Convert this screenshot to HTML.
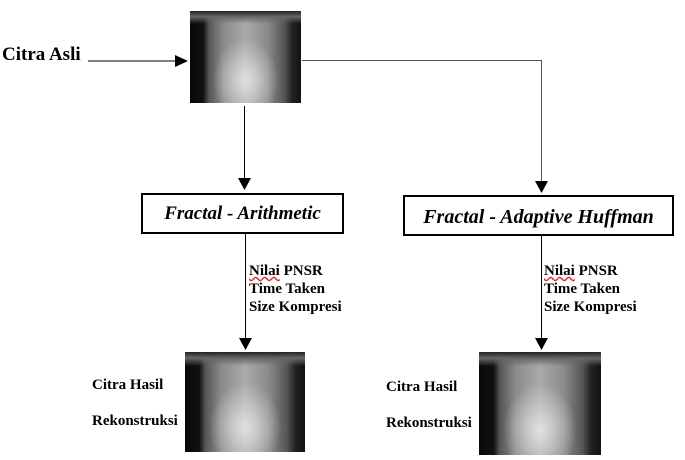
<!DOCTYPE html>
<html><head><style>
body{margin:0;width:685px;height:460px;background:#fff;position:relative;overflow:hidden;font-family:"Liberation Serif","Times New Roman","DejaVu Serif",serif;font-weight:bold;color:#000}
.x{position:absolute;background:
radial-gradient(ellipse 30% 45% at 50% 75%,rgba(230,230,230,.9),rgba(230,230,230,0)),
linear-gradient(to bottom,#222 0%,#666 6%,rgba(0,0,0,0) 14%),
linear-gradient(to right,#080808 0%,#111 12%,#555 17%,#8a8a8a 30%,#aaa 50%,#8a8a8a 70%,#555 85%,#222 92%,#111 100%);}
.t{position:absolute;white-space:nowrap}
.box{position:absolute;border:2px solid #000;box-sizing:border-box;font-style:italic;text-align:center}
</style></head><body>
<div class="x" style="left:190px;top:11px;width:111px;height:92px"></div>
<div class="x" style="left:185px;top:352px;width:120px;height:100px"></div>
<div class="x" style="left:479px;top:352px;width:122px;height:103px"></div>
<svg width="685" height="460" style="position:absolute;left:0;top:0">
<g stroke="#000" stroke-width="1" fill="none">
<line x1="88" y1="61" x2="176" y2="61"/>
<polyline points="302,60.5 541.5,60.5 541.5,182" stroke="#555"/>
<line x1="244.5" y1="106" x2="244.5" y2="178"/>
<line x1="245.5" y1="234" x2="245.5" y2="338"/>
<line x1="541.5" y1="236" x2="541.5" y2="338"/>
</g>
<g fill="#000">
<polygon points="175,55 188,61 175,67"/>
<polygon points="238,178 251,178 244.5,190"/>
<polygon points="535,181 548,181 541.5,193"/>
<polygon points="239,338 252,338 245.5,350"/>
<polygon points="535,338 548,338 541.5,350"/>
</g>
</svg>
<div class="t" style="left:2px;top:44px;font-size:19px">Citra Asli</div>
<div class="box" style="left:141px;top:193px;width:203px;height:41px;font-size:19px;line-height:37px">Fractal - Arithmetic</div>
<div class="box" style="left:403px;top:195px;width:271px;height:41px;font-size:20px;line-height:40px">Fractal - Adaptive Huffman</div>
<div class="t" style="left:249px;top:262px;font-size:15px;line-height:18px"><span style="text-decoration:underline wavy #d33">Nilai</span> PNSR<br>Time Taken<br>Size Kompresi</div>
<div class="t" style="left:544px;top:262px;font-size:15px;line-height:18px"><span style="text-decoration:underline wavy #d33">Nilai</span> PNSR<br>Time Taken<br>Size Kompresi</div>
<div class="t" style="left:92px;top:377px;font-size:15px">Citra Hasil</div>
<div class="t" style="left:92px;top:413px;font-size:15px">Rekonstruksi</div>
<div class="t" style="left:386px;top:379px;font-size:15px">Citra Hasil</div>
<div class="t" style="left:386px;top:415px;font-size:15px">Rekonstruksi</div>
</body></html>
